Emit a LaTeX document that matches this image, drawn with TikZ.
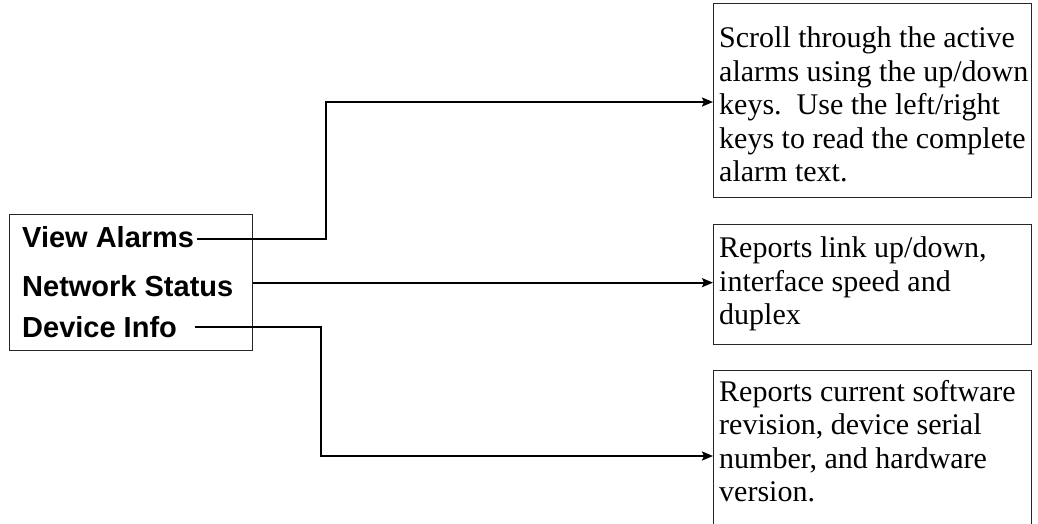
\documentclass[tikz,border=0pt]{standalone}
\usepackage{fontspec}
\setmainfont{Liberation Serif}
\newfontfamily\menufont{Liberation Sans}
\usetikzlibrary{arrows.meta}
\begin{document}
\begin{tikzpicture}[x=1pt,y=-1pt,
  box/.style={draw=black!85, line width=1.3pt, inner sep=0pt, anchor=north west},
  desc/.style={anchor=north west, inner sep=0pt, align=left,
    font=\fontsize{30}{33.5}\selectfont},
  item/.style={anchor=base west, inner sep=0pt, font=\menufont\bfseries\fontsize{29}{34}\selectfont},
  conn/.style={line width=2pt, -{Stealth[length=11pt,width=9pt,inset=2pt]}},
  link/.style={line width=2pt}]
\useasboundingbox (0,0) rectangle (1038,523);
\clip (0,0) rectangle (1038,523);
% menu box
\node[box, minimum width=243pt, minimum height=136pt] (menu) at (9,214) {};
\node[item] (va) at (22,247) {View Alarms};
\node[item] (ns) at (22,296) {Network Status};
\node[item] (di) at (22,337) {Device Info};
% description boxes
\node[box, minimum width=318pt, minimum height=194pt] (box1) at (713,3) {};
\node[box, minimum width=318pt, minimum height=120pt] (box2) at (713,224) {};
\node[box, minimum width=318pt, minimum height=180pt] (box3) at (713,370) {};
\node[desc] (d1) at (719,26.5) {Scroll through the active\\alarms using the up/down\\keys.\ \ Use the left/right\\keys to read the complete\\alarm text.};
\node[desc] (d2) at (719,236.8) {Reports link up/down,\\interface speed and\\duplex};
\node[desc] (d3) at (719,379.8) {Reports current software\\revision, device serial\\number, and hardware\\version.};
% connectors
\coordinate (k1) at (326,102);
\coordinate (k3) at (321,456);
\draw[conn] ([xshift=3pt,yshift=-2pt]va.east) -| (k1) -- (k1 -| box1.west);
\draw[conn] (menu.east) -- (menu.east -| box2.west);
\draw[conn] ([xshift=18pt]di.east) -| (k3) -- (k3 -| box3.west);
\end{tikzpicture}
\end{document}
